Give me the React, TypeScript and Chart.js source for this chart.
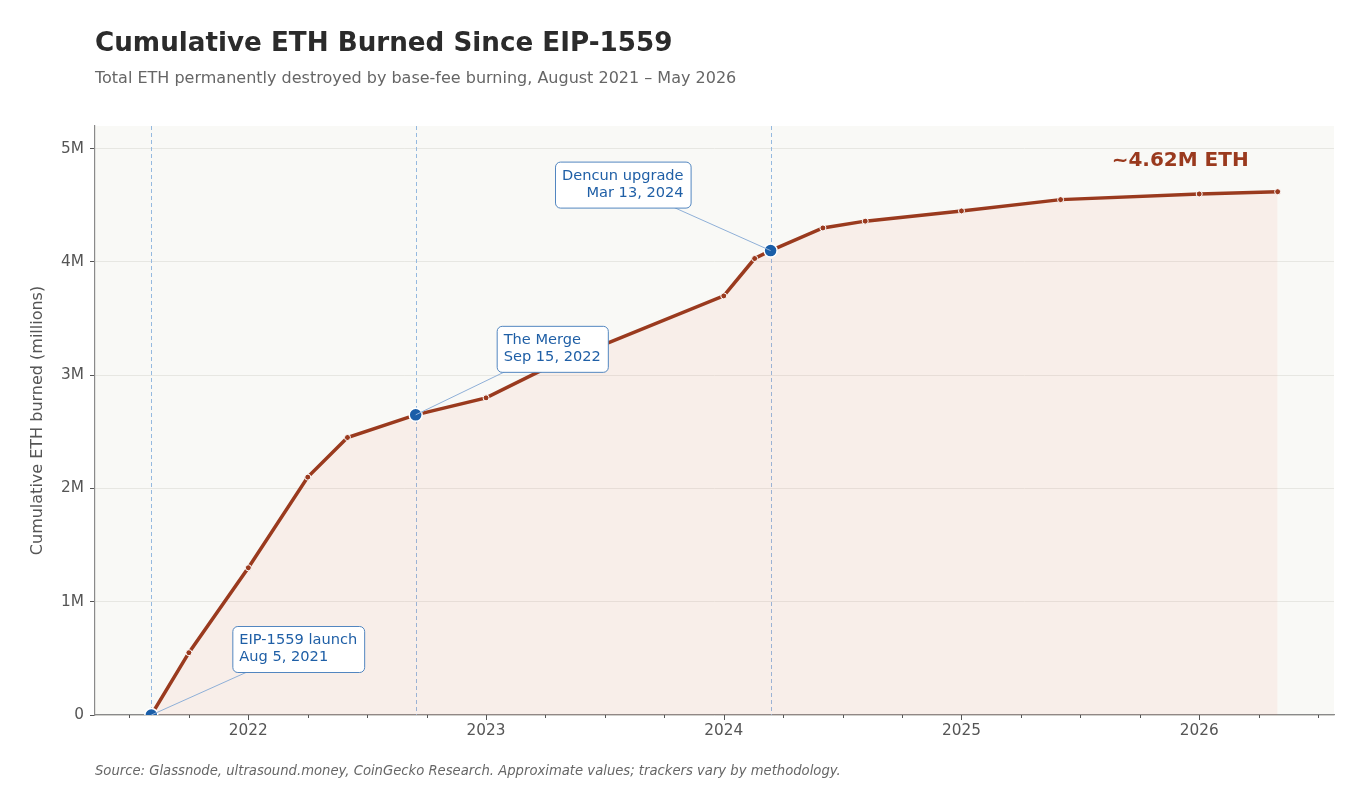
import React, { useEffect, useRef } from "react";
import { Chart, registerables } from "chart.js";

Chart.register(...registerables);

// ---- data (decimal years, millions of ETH) ----
const dates = [2021.592, 2021.75, 2022.0, 2022.25, 2022.417, 2022.704, 2023.0, 2023.25, 2024.0, 2024.13, 2024.197, 2024.417, 2024.595, 2025.0, 2025.417, 2026.0, 2026.33];
const burned = [0, 0.55, 1.3, 2.1, 2.45, 2.65, 2.8, 3.06, 3.7, 4.03, 4.1, 4.3, 4.36, 4.45, 4.55, 4.6, 4.62];

const milestoneDates = [2021.592, 2022.704, 2024.197];
const milestoneValues = [0, 2.65, 4.1];
const milestoneLabels = [
  ["EIP-1559 launch", "Aug 5, 2021"],
  ["The Merge", "Sep 15, 2022"],
  ["Dencun upgrade", "Mar 13, 2024"],
];
const milestoneSide = ["right", "right", "left"];

const yTicks = [0, 1, 2, 3, 4, 5];
const endLabel = "~4.62M ETH";

const TITLE = "Cumulative ETH Burned Since EIP-1559";
const SUBTITLE = "Total ETH permanently destroyed by base-fee burning, August 2021 – May 2026";
const Y_TITLE = "Cumulative ETH burned (millions)";
const SOURCE = "Source: Glassnode, ultrasound.money, CoinGecko Research. Approximate values; trackers vary by methodology.";

const X_MIN = 2021.355;
const X_MAX = 2026.567;
const Y_MAX = 5.2;

const FONT = "'DejaVu Sans', 'Noto Sans', sans-serif";
const LINE = "#9a3a1e";
const BLUE = "#1a5ea8";

const decor = {
  id: "decor",
  beforeDraw(chart: any) {
    const { ctx, chartArea: a } = chart;
    ctx.save();
    ctx.fillStyle = "#ffffff";
    ctx.fillRect(0, 0, chart.width, chart.height);
    ctx.fillStyle = "#f9f9f6";
    ctx.fillRect(a.left, a.top, a.right - a.left, a.bottom - a.top);
    ctx.restore();
  },
  beforeDatasetsDraw(chart: any) {
    const { ctx, chartArea: a, scales } = chart;
    ctx.save();
    ctx.strokeStyle = "#95b9df";
    ctx.lineWidth = 1;
    ctx.setLineDash([4, 3]);
    milestoneDates.forEach((d) => {
      const x = Math.round(scales.x.getPixelForValue(d)) + 0.5;
      ctx.beginPath();
      ctx.moveTo(x, a.top);
      ctx.lineTo(x, a.bottom);
      ctx.stroke();
    });
    ctx.restore();
  },
  afterDatasetsDraw(chart: any) {
    const { ctx, scales } = chart;
    ctx.save();
    ctx.font = `14.6px ${FONT}`;
    milestoneDates.forEach((d, i) => {
      const px = scales.x.getPixelForValue(d);
      const py = scales.y.getPixelForValue(milestoneValues[i]);
      const lines = milestoneLabels[i];
      const tw = Math.max(...lines.map((l) => ctx.measureText(l).width));
      const padX = 7;
      const w = tw + padX * 2;
      const h = 46;
      const top = py - 89;
      const left = milestoneSide[i] === "right" ? px + 81 : px - 80 - w;
      const cx = left + w / 2;
      const cy = top + h / 2;
      const dx = px - cx;
      const dy = py - cy;
      const t = Math.min(Math.abs((h / 2) / dy), Math.abs((w / 2) / dx));
      ctx.strokeStyle = "#8fb0d8";
      ctx.lineWidth = 1;
      ctx.beginPath();
      ctx.moveTo(cx + dx * t, cy + dy * t);
      ctx.lineTo(px, py);
      ctx.stroke();
      ctx.fillStyle = "#ffffff";
      ctx.strokeStyle = "#5286c0";
      ctx.beginPath();
      (ctx as any).roundRect(left + 0.5, top + 0.5, w, h, 5);
      ctx.fill();
      ctx.stroke();
      ctx.fillStyle = "#1f5fa6";
      ctx.textBaseline = "middle";
      if (milestoneSide[i] === "right") {
        ctx.textAlign = "left";
        lines.forEach((l, k) => ctx.fillText(l, left + padX, top + 14 + k * 17));
      } else {
        ctx.textAlign = "right";
        lines.forEach((l, k) => ctx.fillText(l, left + w - padX, top + 15 + k * 17));
      }
    });
    const lx = scales.x.getPixelForValue(dates[dates.length - 1]) - 29;
    const ly = scales.y.getPixelForValue(burned[burned.length - 1] * 1.06);
    ctx.font = `bold 20px ${FONT}`;
    ctx.fillStyle = LINE;
    ctx.textAlign = "right";
    ctx.textBaseline = "middle";
    ctx.fillText(endLabel, lx, ly);
    ctx.restore();
  },
  afterDraw(chart: any) {
    const { ctx, chartArea: a, scales } = chart;
    ctx.save();
    ctx.strokeStyle = "#555555";
    ctx.lineWidth = 1;
    scales.x.ticks.forEach((tk: any) => {
      const x = Math.round(scales.x.getPixelForValue(tk.value)) + 0.5;
      const len = Number.isInteger(tk.value) ? 5 : 3;
      ctx.beginPath();
      ctx.moveTo(x, a.bottom);
      ctx.lineTo(x, a.bottom + len);
      ctx.stroke();
    });
    ctx.textAlign = "left";
    ctx.textBaseline = "alphabetic";
    ctx.fillStyle = "#2b2b2b";
    ctx.font = `bold 26.2px ${FONT}`;
    ctx.fillText(TITLE, 95, 51);
    ctx.fillStyle = "#666666";
    ctx.font = `16px ${FONT}`;
    ctx.fillText(SUBTITLE, 95, 83);
    ctx.font = `italic 13.2px ${FONT}`;
    ctx.fillText(SOURCE, 95, 775);
    ctx.save();
    ctx.translate(38, (a.top + a.bottom) / 2);
    ctx.rotate(-Math.PI / 2);
    ctx.textAlign = "center";
    ctx.textBaseline = "middle";
    ctx.font = `16px ${FONT}`;
    ctx.fillStyle = "#555555";
    ctx.fillText(Y_TITLE, 0, 0);
    ctx.restore();
    ctx.restore();
  },
};

export default function App() {
  const ref = useRef<HTMLCanvasElement | null>(null);
  useEffect(() => {
    if (!ref.current) return;
    Chart.defaults.font.family = FONT;
    const chart = new Chart(ref.current, {
      type: "line",
      data: {
        datasets: [
          {
            label: "Milestones",
            data: milestoneDates.map((d, i) => ({ x: d, y: milestoneValues[i] })),
            showLine: false,
            pointRadius: 6.5,
            pointBackgroundColor: BLUE,
            pointBorderColor: "#ffffff",
            pointBorderWidth: 1.5,
            clip: 0,
            order: 0,
          } as any,
          {
            label: "Cumulative ETH burned",
            data: dates.map((d, i) => ({ x: d, y: burned[i] })),
            borderColor: LINE,
            borderWidth: 3.5,
            backgroundColor: "rgba(240, 100, 70, 0.07)",
            fill: "origin",
            tension: 0,
            pointRadius: 3,
            pointBackgroundColor: LINE,
            pointBorderColor: "#ffffff",
            pointBorderWidth: 1,
            order: 1,
          } as any,
        ],
      },
      options: {
        responsive: false,
        animation: false,
        devicePixelRatio: 1,
        events: [],
        layout: { padding: { top: 126, right: 32, left: 0, bottom: 0 } },
        plugins: {
          legend: { display: false },
          tooltip: { enabled: false },
          title: { display: false },
        },
        scales: {
          x: {
            type: "linear",
            min: X_MIN,
            max: X_MAX,
            afterFit: (s: any) => {
              s.height = 93;
            },
            afterBuildTicks: (s: any) => {
              const t: any[] = [];
              for (let v = 2021.5; v <= X_MAX; v += 0.25) t.push({ value: v });
              s.ticks = t;
            },
            grid: { display: true, drawOnChartArea: false, drawTicks: false },
            border: { display: true, color: "#8a8a8a", width: 1.2 },
            ticks: {
              autoSkip: false,
              maxRotation: 0,
              padding: 7,
              color: "#555555",
              font: { size: 15.3, family: FONT },
              callback: (v: any) => (Number.isInteger(v) ? String(v) : ""),
            },
          },
          y: {
            type: "linear",
            min: 0,
            max: Y_MAX,
            afterFit: (s: any) => {
              s.width = 95;
            },
            afterBuildTicks: (s: any) => {
              s.ticks = yTicks.map((v) => ({ value: v }));
            },
            grid: {
              color: "#e7e7e2",
              lineWidth: 1,
              tickColor: "#555555",
              tickLength: 5,
            },
            border: { display: true, color: "#8a8a8a", width: 1.2 },
            ticks: {
              padding: 6,
              color: "#555555",
              font: { size: 15.3, family: FONT },
              callback: (v: any) => (v === 0 ? "0" : `${v}M`),
            },
          },
        },
      },
      plugins: [decor],
    });
    return () => chart.destroy();
  }, []);
  return (
    <div style={{ position: "fixed", left: 0, top: 0, width: 1366, height: 808, background: "#fff" }}>
      <canvas ref={ref} width={1366} height={808} style={{ display: "block" }} />
    </div>
  );
}
